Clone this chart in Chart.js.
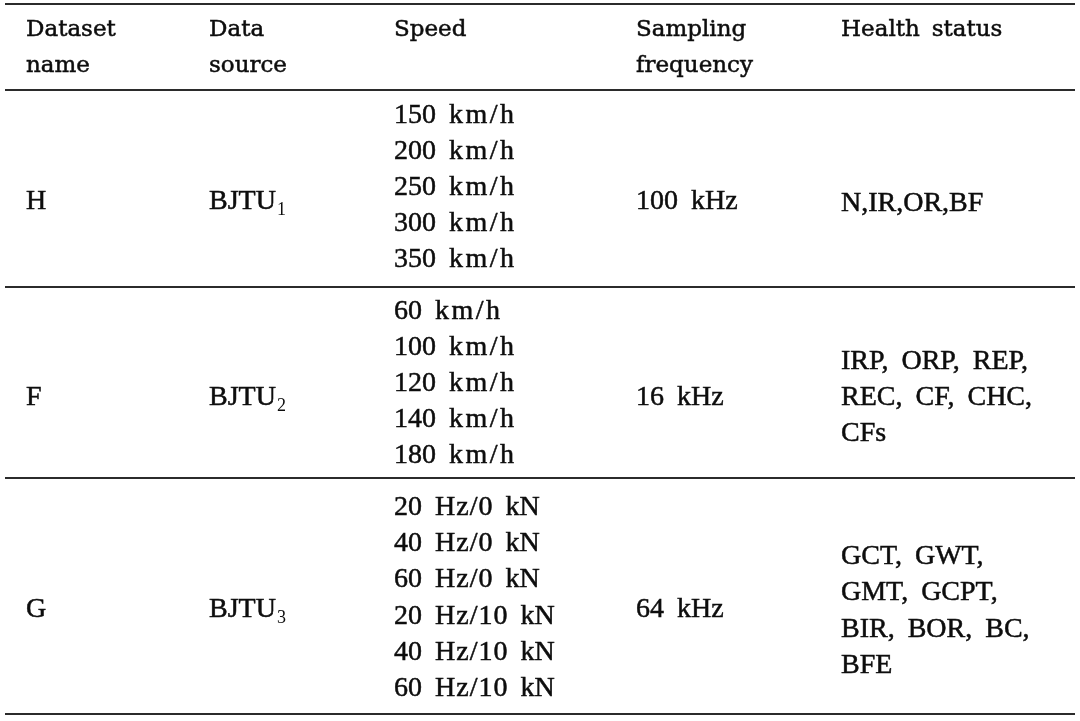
<!DOCTYPE html>
<html>
<head>
<meta charset="utf-8">
<script src="https://cdn.jsdelivr.net/npm/chart.js@4.4.0/dist/chart.umd.min.js"></script>
<style>
  html, body { margin: 0; padding: 0; background: #fff; }
  #wrap { width: 1080px; height: 721px; }
</style>
</head>
<body>
<div id="wrap"><canvas id="table-chart"></canvas></div>
<script>
// Table content
const headers = [['Dataset', 'name'], ['Data', 'source'], ['Speed'], ['Sampling', 'frequency'], ['Health status']];
const datasetNames = ['H', 'F', 'G'];
const dataSources = ['BJTU', 'BJTU', 'BJTU'];
const sourceSubscripts = ['1', '2', '3'];
const speeds = [
    ['150 km/h', '200 km/h', '250 km/h', '300 km/h', '350 km/h'],
    ['60 km/h', '100 km/h', '120 km/h', '140 km/h', '180 km/h'],
    ['20 Hz/0 kN', '40 Hz/0 kN', '60 Hz/0 kN', '20 Hz/10 kN', '40 Hz/10 kN', '60 Hz/10 kN']
];
const samplingFreqs = ['100 kHz', '16 kHz', '64 kHz'];
const healthStatus = [
    ['N,IR,OR,BF'],
    ['IRP, ORP, REP,', 'REC, CF, CHC,', 'CFs'],
    ['GCT, GWT,', 'GMT, GCPT,', 'BIR, BOR, BC,', 'BFE']
];

// Layout (in scale units, which map 1:1 to the page)
const COL_X = [26, 209, 394, 636, 841];
const RULES = [4, 90, 287, 478, 714];
const RULE_LEFT = 5, RULE_RIGHT = 1075;
const LINE = 36.2;
const HEADER_BASE = [36, 72];
const HEADER_FONT = '23px "DejaVu Serif"';
const BODY_FONT = '28px "Liberation Serif"';
const SUB_FONT = '18px "Liberation Serif"';
const TEXT_COLOR = '#0d0d0d';

/** Builds one text point per line of a cell */
function cellPoints(col, lines, centerY, extra) {
    const first = centerY - (lines.length - 1) * LINE / 2 + 9.5;
    return lines.map((t, i) => Object.assign({ x: COL_X[col], y: first + i * LINE, text: t }, extra || {}));
}

const headerPoints = [];
headers.forEach((lines, c) => {
    lines.forEach((t, i) => headerPoints.push({ x: COL_X[c], y: HEADER_BASE[i], text: t }));
});

const speedShift = [-4, -2, -1];
const cellShift = [-2, 0, -2];
const bodyPoints = [];
for (let r = 0; r < datasetNames.length; r++) {
    const mid = (RULES[r + 1] + RULES[r + 2]) / 2;
    const cellMid = mid + 13 + cellShift[r];
    bodyPoints.push(...cellPoints(0, [datasetNames[r]], cellMid));
    bodyPoints.push(...cellPoints(1, [dataSources[r]], cellMid, { sub: sourceSubscripts[r] }));
    bodyPoints.push(...cellPoints(2, speeds[r], mid + 1 + speedShift[r]));
    bodyPoints.push(...cellPoints(3, [samplingFreqs[r]], cellMid));
    bodyPoints.push(...cellPoints(4, healthStatus[r], mid + 13));
}

// units with a slash are set a little looser in the source
function spacingFor(word) {
    if (word === 'km/h') return 2.5;
    if (word.indexOf('/') >= 0) return 1;
    return 0;
}

function drawWord(ctx, w, x, y) {
    const ls = spacingFor(w);
    if (!ls) {
        ctx.strokeText(w, x, y);
        ctx.fillText(w, x, y);
        return x + ctx.measureText(w).width;
    }
    for (let i = 0; i < w.length; i++) {
        ctx.strokeText(w[i], x, y);
        ctx.fillText(w[i], x, y);
        x += ctx.measureText(w[i]).width + (i < w.length - 1 ? ls : 0);
    }
    return x;
}

function drawWords(ctx, text, x, y, gap) {
    text.split(' ').forEach(w => {
        x = drawWord(ctx, w, x, y) + gap;
    });
    return x - gap;
}

const tablePlugin = {
    id: 'tableText',
    afterDatasetsDraw(chart) {
        const ctx = chart.ctx;
        const { x: xs, y: ys } = chart.scales;
        ctx.save();
        // horizontal rules
        ctx.strokeStyle = '#2b2b2b';
        ctx.lineWidth = 2;
        RULES.forEach(r => {
            const py = Math.round(ys.getPixelForValue(r));
            ctx.beginPath();
            ctx.moveTo(xs.getPixelForValue(RULE_LEFT), py);
            ctx.lineTo(xs.getPixelForValue(RULE_RIGHT), py);
            ctx.stroke();
        });
        ctx.fillStyle = TEXT_COLOR;
        ctx.strokeStyle = TEXT_COLOR;
        ctx.lineWidth = 0.5;
        ctx.textBaseline = 'alphabetic';
        ctx.textAlign = 'left';
        chart.data.datasets.forEach((ds, i) => {
            const meta = chart.getDatasetMeta(i);
            const isHeader = ds.label === 'header';
            meta.data.forEach((el, j) => {
                const pt = ds.data[j];
                ctx.font = isHeader ? HEADER_FONT : BODY_FONT;
                const end = drawWords(ctx, pt.text, el.x, el.y, isHeader ? 12 : 13);
                if (pt.sub) {
                    ctx.font = SUB_FONT;
                    ctx.fillText(pt.sub, end + 1, el.y + 6);
                }
            });
        });
        ctx.restore();
    }
};

new Chart(document.getElementById('table-chart'), {
    type: 'scatter',
    data: {
        datasets: [
            { label: 'header', data: headerPoints, pointRadius: 0 },
            { label: 'body', data: bodyPoints, pointRadius: 0 }
        ]
    },
    options: {
        responsive: true,
        maintainAspectRatio: false,
        animation: false,
        layout: { padding: 0 },
        events: [],
        scales: {
            x: { type: 'linear', min: 0, max: 1080, display: false },
            y: { type: 'linear', min: 0, max: 721, reverse: true, display: false }
        },
        plugins: {
            legend: { display: false },
            tooltip: { enabled: false }
        }
    },
    plugins: [tablePlugin]
});
</script>
</body>
</html>
